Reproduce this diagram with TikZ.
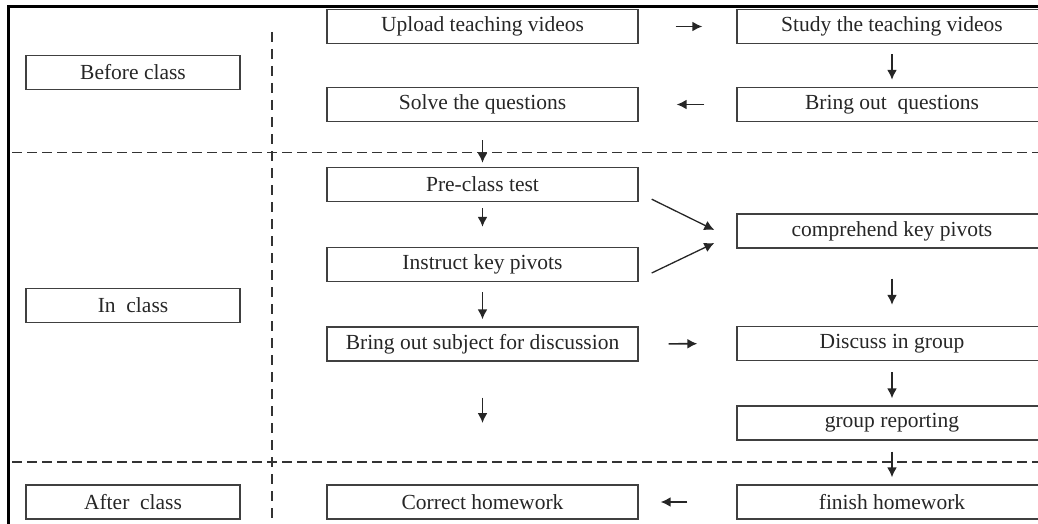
\documentclass[tikz,border=0pt]{standalone}
\usepackage{fontspec}
\setmainfont{Liberation Serif}
\usetikzlibrary{arrows.meta}
\begin{document}
\begin{tikzpicture}[x=1pt,y=-1pt,
  box/.style={draw=black!75, line width=1.4pt, minimum height=34pt, inner sep=0pt,
    text=black!85, font=\fontsize{21.5}{24}\selectfont},
  lbox/.style={box, minimum width=214pt},
  mbox/.style={box, minimum width=311pt},
  rbox/.style={box, minimum width=310pt},
  arr/.style={-{Latex[length=10pt,width=10pt]}, line width=1.6pt, black!85},
  sep/.style={line width=1.6pt, black!80, dash pattern=on 10pt off 5pt},
  vsep/.style={line width=1.6pt, black!80, dash pattern=on 10pt off 7pt},
  frame/.style={line width=3pt, black, line join=miter}]
\useasboundingbox (0,0) rectangle (1038,524);
\clip (0,0) rectangle (1038,524);

% frame and separators
\draw[frame] (8,530) -- (8,7) -- (1045,7);
\draw[sep] (12,152.5) -- (1038,152.5);
\draw[sep] (12,462) -- (1038,462);
\draw[vsep] (272,32) -- (272,524);

% phase labels
\node[lbox] (before) at (133,72.5) {Before class};
\node[lbox] (inclass) at (133,305.5) {In~ class};
\node[lbox] (after) at (133,502) {After~ class};

% middle column
\node[mbox] (upload) at (482.5,26.5) {Upload teaching videos};
\node[mbox] (solve) at (482.5,104.5) {Solve the questions};
\node[mbox] (pre) at (482.5,184.5) {Pre-class test};
\node[mbox] (instr) at (482.5,264.5) {Instruct key pivots};
\node[mbox] (subj) at (482.5,344) {Bring out subject for discussion};
\node[mbox] (correct) at (482.5,502) {Correct homework};

% right column
\node[rbox] (study) at (892,26.5) {Study the teaching videos};
\node[rbox] (bring) at (892,104.5) {Bring out~ questions};
\node[rbox] (comp) at (892,231) {comprehend key pivots};
\node[rbox] (discuss) at (892,343.5) {Discuss in group};
\node[rbox] (group) at (892,423) {group reporting};
\node[rbox] (finish) at (892,502) {finish homework};

\coordinate (free) at (482.5,423);

% connectors
\draw[arr, shorten <=37pt, shorten >=34pt] (upload.east) -- (study.west);
\draw[arr, shorten <=10pt, shorten >=7pt] (study.south) -- (bring.north);
\draw[arr, shorten <=32pt, shorten >=38pt] (bring.west) -- (solve.east);
\draw[arr, shorten <=18pt, shorten >=4pt] (solve.south) -- (pre.north);
\draw[arr, shorten <=6pt, shorten >=20pt] (pre.south) -- (instr.north);
\draw[arr, shorten <=10pt, shorten >=7pt] (instr.south) -- (subj.north);
\draw[arr, shorten <=36pt] (subj.south) -- (free);
\draw[arr, line width=1.3pt] ([xshift=13pt,yshift=3pt]pre.south east) -- ([xshift=-22pt,yshift=1pt]comp.west);
\draw[arr, line width=1.3pt] ([xshift=13pt,yshift=-8.5pt]instr.east) -- ([xshift=-22pt,yshift=-12pt]comp.west);
\draw[arr, shorten <=30pt, shorten >=21pt] (comp.south) -- (discuss.north);
\draw[arr, shorten <=30pt, shorten >=39pt] (subj.east) -- (discuss.west);
\draw[arr, shorten <=11pt, shorten >=7pt] (discuss.south) -- (group.north);
\draw[arr, shorten <=11pt, shorten >=7pt] (group.south) -- (finish.north);
\draw[arr, shorten <=49pt, shorten >=22pt] (finish.west) -- (correct.east);
\end{tikzpicture}
\end{document}
